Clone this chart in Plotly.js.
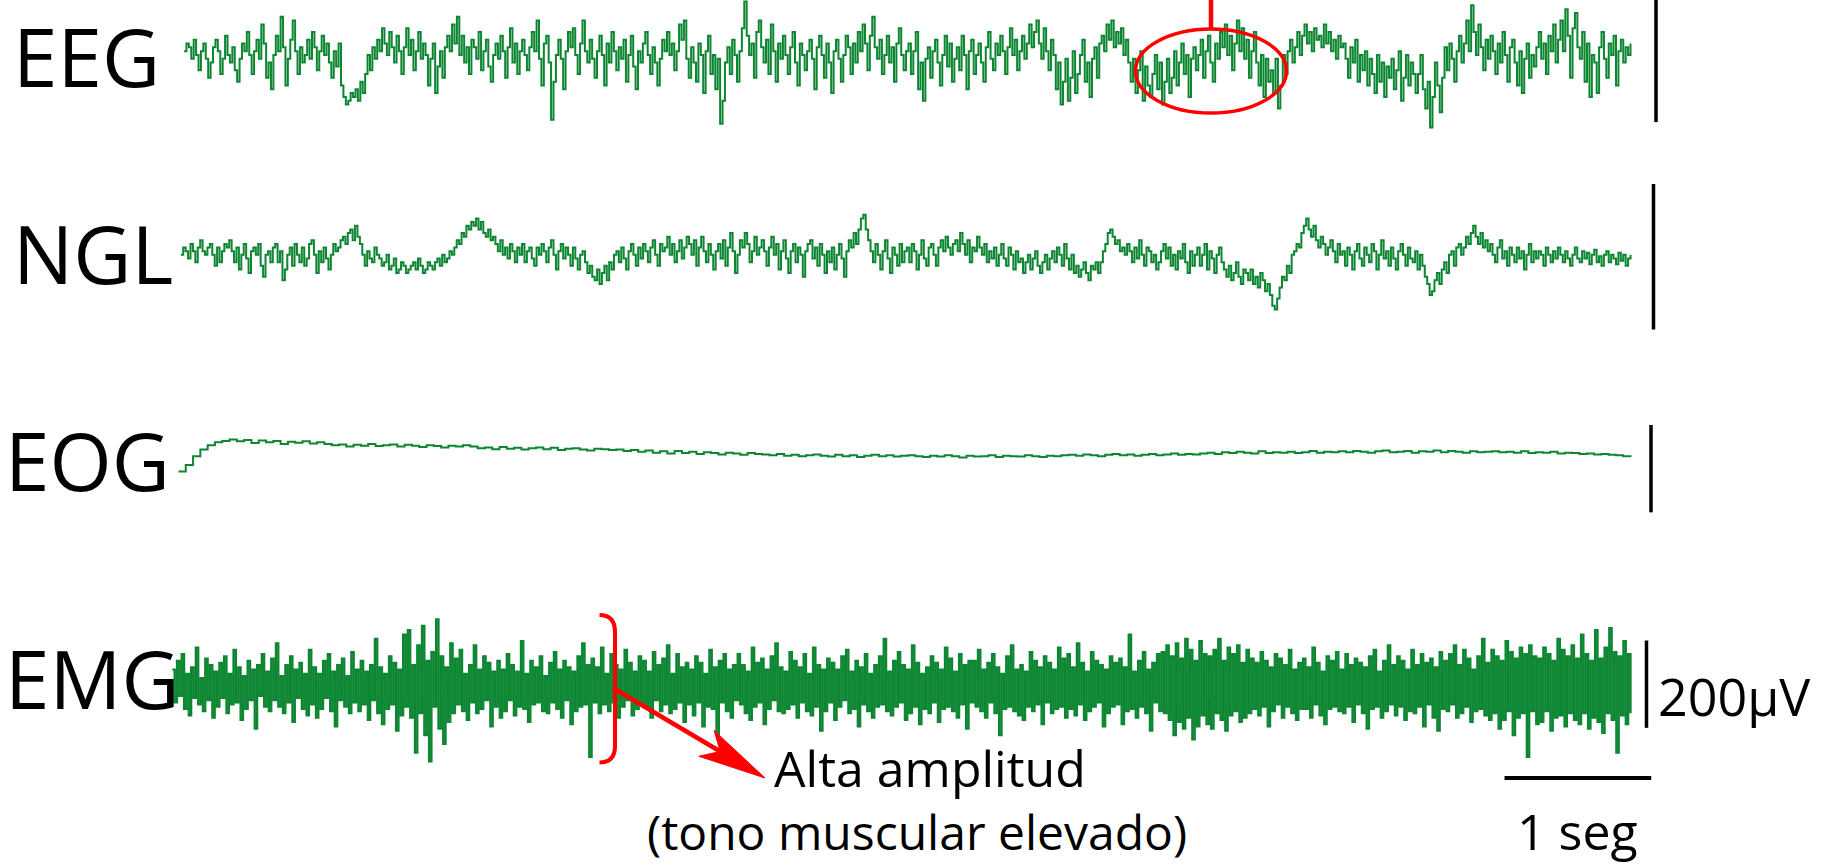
<!DOCTYPE html>
<html>
<head>
<meta charset="utf-8">
<script src="https://cdn.plot.ly/plotly-3.0.1.min.js"></script>
<style>html,body{margin:0;padding:0;background:#fff;}#chart{width:1826px;height:867px;}</style>
</head>
<body>
<div id="chart"></div>
<script>
// ---------------- DATA (µV) ----------------
const channelNames = ["EEG", "NGL", "EOG", "EMG"];
const scaleLabel = "200µV";
const timeLabel = "1 seg";
const noteLine1 = "Alta amplitud";
const noteLine2 = "(tono muscular elevado)";
const recordStart = [0.08, 0.058, 0.042, 0.0];   // s
const recordEnd = 9.94;                          // s
const calibUV = [160, 200, 200, 200];            // height of each channel's vertical bar

const eeg = [
20,30,25,10,35,15,-5,20,30,10,
-15,5,25,35,20,-10,10,40,15,5,
25,-5,-20,10,30,20,45,15,-10,20,
35,10,55,30,-15,5,-30,15,40,20,
65,25,-25,10,35,60,20,-10,25,5,
15,35,10,45,25,-5,20,40,15,30,
5,-15,20,0,30,-25,-40,-50,-45,-35,
-40,-30,-45,-20,-35,-10,15,-5,25,10,
35,20,50,30,15,45,25,5,40,20,
-10,25,50,15,35,-5,20,45,10,30,
15,-25,10,30,-35,0,20,-15,25,40,
20,55,30,65,15,40,5,25,-10,35,
25,10,45,-5,20,35,0,-20,15,30,
10,40,20,-15,25,50,5,30,-10,20,
35,15,-5,25,45,20,60,10,-25,30,
40,5,-70,-20,15,35,10,-30,20,45,
25,50,15,-10,30,60,20,5,35,10,
-15,20,40,15,-25,30,5,45,20,-5,
25,10,35,-20,15,40,0,-30,20,5,
30,45,15,-10,25,5,-25,10,35,20,
45,15,30,-5,20,55,35,60,10,-15,
25,5,-20,30,15,-35,20,40,-10,15,
-30,10,-75,-45,5,25,-10,35,15,-20,
20,50,85,40,15,30,-15,45,60,25,
5,35,-10,55,20,-20,30,10,40,15,
-10,25,45,5,-25,30,15,-5,20,35,
10,-30,25,40,15,-15,30,5,-35,20,
35,10,-20,15,40,25,-10,30,5,45,
20,55,30,-5,40,65,25,10,35,-10,
15,40,5,25,-20,30,50,15,-5,20,
30,-10,20,45,-30,5,-45,10,25,-15,
20,35,5,-25,15,40,0,30,-20,10,
25,-5,40,15,-30,20,35,-10,15,30,
5,-20,25,45,10,-5,30,15,40,20,
-10,25,50,15,35,-5,20,40,10,30,
55,25,45,60,30,10,50,20,-5,35,
15,-30,5,-50,-20,10,-45,-15,20,-35,
-10,15,35,-20,5,-40,10,25,-15,30,
40,20,55,35,60,25,45,30,50,15,
35,5,-20,10,-35,-5,20,-45,0,-25,
-40,-10,15,-30,5,-50,-20,10,-35,-15,
20,-25,5,30,-10,15,-40,10,25,-5,
15,35,-15,20,40,5,-20,30,10,45,
25,55,15,40,-5,30,60,20,50,10,
35,-15,20,45,5,-25,15,-40,10,-20,
-5,-35,10,-55,-25,15,-10,20,35,5,
25,45,15,40,55,30,45,20,50,35,
40,25,55,30,45,20,35,10,40,25,
30,10,-15,25,5,35,-20,15,-5,20,
-25,10,-10,-35,15,-20,5,-40,0,-15,
10,-30,-5,20,-45,-15,15,-25,5,-10,
-35,-10,15,-30,-55,-20,-80,-40,5,-25,
-60,-15,25,-5,30,10,-20,20,40,5,
30,60,20,80,45,15,55,25,-5,35,
10,40,20,-10,30,5,45,15,-20,25,
35,5,-25,20,-35,10,30,-15,15,0,
25,45,10,30,-10,40,20,55,5,35,
60,20,75,40,-15,50,70,25,10,45,
-20,30,-40,15,5,-35,25,45,10,-15,
30,15,40,-25,20,35,5,25,15,30];

const ngl = [
5,15,10,0,20,10,-5,15,25,10,
5,15,20,5,-10,15,-5,10,20,15,
25,10,-5,15,-15,5,20,0,-20,10,
15,5,20,-10,-25,5,10,-5,15,20,
-5,10,-30,-15,5,15,-10,20,5,-5,
15,-10,0,20,25,5,-20,10,-5,15,
0,-15,5,20,10,15,25,30,20,35,
40,25,45,30,20,5,-10,10,0,-5,
15,5,0,-10,-5,5,-15,-10,0,-20,
-15,-5,-10,-20,-15,-10,-5,-15,0,-10,
-20,-15,-5,-10,-15,-5,0,-10,5,-5,
0,10,5,15,25,20,35,30,45,40,
50,45,55,40,50,35,30,40,25,30,
20,10,25,5,15,0,20,10,-5,15,
5,20,-5,10,15,0,-10,15,5,20,
10,-5,15,25,5,-15,10,20,0,15,
5,-10,15,0,-15,5,10,-5,-20,-10,
-25,-30,-15,-35,-20,-10,-30,-5,-15,5,
10,-5,15,0,-15,10,20,5,-10,15,
0,20,10,-5,15,25,5,-10,20,10,
15,30,5,20,-5,10,25,0,15,30,
20,5,25,-10,15,30,10,-5,20,5,
-15,10,20,0,25,-10,15,35,10,-20,
5,25,15,35,20,-5,10,30,5,15,
25,10,-10,15,30,5,20,-15,10,25,
0,-20,10,20,-5,15,5,-25,10,20,
25,0,15,-10,20,5,-20,10,-5,15,
-15,5,20,0,-25,10,25,15,35,20,
40,55,60,40,25,10,-5,20,5,-15,
10,25,0,-20,15,5,-10,20,-5,10,
15,-5,20,10,-15,5,25,0,-10,15,
20,5,-10,15,25,10,30,15,5,20,
25,10,35,20,5,25,-5,15,10,30,
15,5,20,-5,10,0,15,-10,5,20,
0,-10,15,5,-15,10,-5,0,-20,-5,
5,-15,0,10,-10,-20,-5,5,-15,0,
10,-5,15,5,-10,20,0,-15,5,-20,
-10,-25,-15,-5,-20,-30,-10,-15,-5,-20,
-5,10,20,35,40,30,20,25,10,15,
5,20,10,-5,15,0,25,5,-10,15,
10,-5,5,-15,-5,10,20,0,15,-10,
5,-15,10,0,20,-5,-20,10,-10,5,
15,-10,5,20,-15,10,0,-20,5,15,
-5,-15,-25,-10,-30,-20,-5,-25,-35,-15,
-20,-30,-15,-35,-25,-40,-20,-30,-45,-35,
-50,-65,-70,-55,-40,-25,-30,-10,-20,5,
10,20,15,35,45,55,40,30,45,25,
15,30,20,5,15,25,10,-5,20,5,
10,-10,15,5,-15,10,20,0,-10,15,
5,-5,20,10,-15,5,25,0,10,-10,
15,0,-15,10,20,5,-10,15,0,-5,
10,-15,5,-10,-25,-35,-50,-45,-30,-20,
-35,-15,-5,-20,5,10,-10,15,20,5,
15,30,20,35,45,30,20,35,15,25,
10,20,5,-5,15,25,0,10,-10,15,
5,-5,15,0,10,-15,5,20,-5,10,
0,10,5,-10,15,5,-5,10,0,15,
5,-5,10,0,-10,5,15,0,-5,10,
0,8,-8,5,12,-5,3,-10,5,10,
-5,5,0,-8,8,-3,5,-10,0,5];

const eog = [
-45,-30,-10,5,15,
22,25,28,24,27,20,26,22,25,18,23,21,24,19,22,
18,15,17,12,16,14,18,13,15,17,12,16,14,11,15,13,10,14,12,15,
12,8,10,6,11,7,9,5,8,10,6,9,4,7,8,5,3,7,6,4,
5,2,4,0,3,-2,1,-4,2,-3,0,-5,-1,-3,-6,-2,-4,-7,-3,-5,
-6,-8,-5,-9,-7,-10,-8,-6,-9,-11,-7,-10,-8,-12,-9,-7,-10,-8,-11,-9,
-8,-10,-12,-9,-11,-8,-10,-13,-9,-11,-10,-8,-12,-9,-10,-11,-8,-10,-12,-9,
-10,-8,-7,-9,-6,-8,-10,-7,-5,-8,-6,-9,-7,-5,-8,-6,-4,-7,-5,-6,
-4,-2,-5,-1,-3,0,-2,-4,1,-3,-1,-2,0,-3,-1,2,-2,0,-1,1,
-1,2,0,-2,1,3,-1,0,2,-2,1,0,3,-1,2,0,-2,1,-1,0,
1,-1,0,-2,1,-3,-1,-2,0,-4,-2,-3,-5,-4,-6,-5,-7,-8,-10,-12];

const emg = [
40,-35,60,-20,75,-50,30,-65,45,-25,90,-40,20,-55,65,-30,50,-70,35,-45,
55,-25,70,-60,30,-40,85,-35,45,-75,25,-50,60,-30,40,-95,50,-20,75,-45,
35,-55,65,-30,100,-45,25,-60,50,-35,70,-80,40,-25,55,-50,30,-65,85,-40,
45,-70,30,-50,60,-25,75,-55,35,-90,50,-30,65,-45,25,-60,80,-35,40,-55,
60,-40,35,-75,50,-30,110,-60,45,-85,30,-50,70,-40,55,-100,40,-65,120,-45,
130,-70,50,-150,95,-60,140,-110,60,-170,80,-45,155,-95,70,-130,45,-80,100,-60,
65,-40,85,-55,30,-75,50,-35,95,-60,40,-50,70,-30,55,-90,35,-45,60,-70,
40,-55,75,-30,50,-65,35,-45,105,-50,30,-80,60,-40,45,-35,70,-55,25,-60,
55,-35,80,-50,40,-70,60,-30,45,-85,35,-55,70,-45,100,-40,50,-160,65,-35,
45,-60,90,-40,30,-55,75,-35,50,-70,40,-45,85,-30,55,-65,35,-50,70,-40,
60,-45,35,-70,80,-30,50,-55,65,-40,95,-60,30,-50,75,-35,45,-80,55,-40,
40,-65,70,-35,55,-90,30,-45,85,-50,45,-110,60,-35,75,-55,40,-70,50,-30,
75,-40,50,-60,35,-75,90,-45,55,-35,65,-85,40,-50,70,-30,100,-55,45,-60,
35,-50,80,-40,60,-70,45,-35,75,-55,30,-65,90,-45,50,-100,40,-55,65,-35,
55,-75,40,-45,70,-30,85,-60,35,-50,60,-90,45,-40,75,-55,30,-70,50,-45,
70,-40,110,-55,35,-65,60,-45,80,-35,50,-75,40,-60,95,-45,55,-85,30,-50,
45,-60,70,-35,55,-80,40,-50,90,-45,65,-55,35,-70,75,-40,50,-95,60,-35,
60,-45,85,-55,40,-70,55,-35,75,-60,45,-110,30,-50,70,-45,95,-55,40,-65,
50,-75,35,-45,80,-55,60,-40,45,-85,70,-35,55,-60,40,-50,90,-45,65,-70,
75,-50,45,-65,100,-40,55,-75,35,-55,80,-45,60,-35,50,-90,40,-60,70,-45,
55,-40,65,-85,45,-55,120,-50,35,-70,60,-45,80,-60,40,-100,55,-35,75,-55,
80,-60,95,-75,70,-110,100,-80,65,-95,110,-70,85,-120,60,-90,105,-65,75,-85,
70,-95,85,-60,110,-75,60,-100,90,-65,75,-55,95,-80,55,-70,85,-60,65,-50,
55,-65,80,-45,60,-90,45,-55,75,-40,65,-70,50,-45,85,-60,40,-75,55,-50,
65,-50,45,-70,90,-40,55,-65,35,-85,70,-50,60,-45,80,-55,40,-60,75,-45,
50,-80,65,-40,55,-60,45,-95,70,-50,85,-45,35,-70,60,-55,95,-40,50,-65,
70,-45,60,-75,40,-55,85,-60,50,-45,75,-90,55,-40,65,-70,45,-100,80,-50,
60,-55,75,-40,95,-70,50,-60,85,-45,65,-80,40,-55,70,-50,110,-65,55,-75,
85,-60,70,-95,60,-75,105,-55,80,-110,65,-70,90,-60,75,-160,95,-55,70,-85,
65,-80,90,-55,75,-100,60,-70,110,-65,85,-90,70,-60,95,-75,65,-85,120,-60,
75,-95,60,-70,130,-80,65,-105,90,-60,135,-75,80,-150,70,-65,105,-85,75,-60];

const signals = [eeg, ngl, eog, emg];
const timeBarS = 1;       // s

// ---------------- LAYOUT GEOMETRY ----------------
const W = 1826, H = 867;
const PXS = 146.7;                 // pixels per second
const X0 = -172.3 / PXS;           // time at left edge
const GREEN = "#0d8632";
const lineW = [2.0, 2.0, 2.0, 2.3];
// per channel: baseline pixel row, µV per pixel, scale-bar pixel column and top row
const chan = [
  {center: 66.4,  uvpp: 1.31,  barX: 1656,   barTop: 0,     labX: 11, labY: 56},
  {center: 258.5, uvpp: 1.374, barX: 1653.5, barTop: 184,   labX: 11, labY: 252},
  {center: 451.8, uvpp: 2.29,  barX: 1651,   barTop: 425,   labX: 3,  labY: 459},
  {center: 687,   uvpp: 2.29,  barX: 1646.5, barTop: 640.5, labX: 3,  labY: 677}
];
const tOf = px => px / PXS + X0;
const yp = p => 1 - p / H;
const xp = p => p / W;

const traces = [];
const layout = {
  width: W, height: H, autosize: false,
  margin: {l: 0, r: 0, t: 0, b: 0, pad: 0},
  paper_bgcolor: "#fff", plot_bgcolor: "#fff",
  showlegend: false,
  xaxis: {range: [X0, X0 + W / PXS], visible: false, fixedrange: true},
  shapes: [], annotations: []
};

signals.forEach((vals, k) => {
  const c = chan[k];
  const n = vals.length;
  const dt = (recordEnd - recordStart[k]) / (n - 1);
  const t = vals.map((_, i) => recordStart[k] + i * dt);
  const yname = k === 0 ? "y" : "y" + (k + 1);
  const axname = k === 0 ? "yaxis" : "yaxis" + (k + 1);
  traces.push({
    x: t, y: vals, type: "scatter", mode: "lines", yaxis: yname,
    line: {color: GREEN, width: lineW[k], shape: "hv"}, hoverinfo: "skip"
  });
  const ax = {range: [-(H - c.center) * c.uvpp, c.center * c.uvpp], visible: false, fixedrange: true, domain: [0, 1]};
  if (k > 0) ax.overlaying = "y";
  layout[axname] = ax;
  // vertical calibration bar
  const barTopUV = (c.center - c.barTop) * c.uvpp;
  layout.shapes.push({type: "line", xref: "x", yref: yname,
    x0: tOf(c.barX), x1: tOf(c.barX), y0: barTopUV - calibUV[k], y1: barTopUV,
    line: {color: "#000", width: 3.5}});
  layout.annotations.push({text: channelNames[k], xref: "paper", yref: "paper",
    x: xp(c.labX), y: yp(c.labY), xanchor: "left", yanchor: "middle", showarrow: false,
    font: {family: "Open Sans, Noto Sans, sans-serif", size: 80, color: "#000"}});
});

// 200µV label
layout.annotations.push({text: scaleLabel, xref: "paper", yref: "paper",
  x: xp(1656), y: yp(695), xanchor: "left", yanchor: "middle", showarrow: false,
  font: {family: "Open Sans, sans-serif", size: 52, color: "#000"}});
// 1 s bar
const tb0 = tOf(1504.5);
layout.shapes.push({type: "line", xref: "x", yref: "paper", x0: tb0, x1: tb0 + timeBarS,
  y0: yp(778), y1: yp(778), line: {color: "#000", width: 4}});
layout.annotations.push({text: timeLabel, xref: "x", yref: "paper",
  x: tb0 + timeBarS / 2, y: yp(831), xanchor: "center", yanchor: "middle", showarrow: false,
  font: {family: "Open Sans, sans-serif", size: 50, color: "#000"}});

// red ellipse + stem on EEG
const RED = "#ff0000";
layout.shapes.push({type: "circle", xref: "paper", yref: "paper",
  x0: xp(1211 - 75.5), x1: xp(1211 + 75.5), y0: yp(71 + 42), y1: yp(71 - 42),
  line: {color: RED, width: 3.5}});
layout.shapes.push({type: "line", xref: "paper", yref: "paper",
  x0: xp(1211), x1: xp(1211), y0: yp(0), y1: yp(29), line: {color: RED, width: 4.5}});

// red bracket on EMG
const P = (x, y) => xp(x).toFixed(5) + "," + yp(y).toFixed(5);
layout.shapes.push({type: "path", xref: "paper", yref: "paper",
  path: "M" + P(599.5, 615) + " Q" + P(615, 615) + " " + P(615, 632) + " L" + P(615, 746) +
        " Q" + P(615, 762.5) + " " + P(599.5, 762.5),
  line: {color: RED, width: 4}});

// red arrow
const tail = [613, 688], tip = [765, 778];
const dx = tip[0] - tail[0], dy = tip[1] - tail[1], L = Math.hypot(dx, dy);
const ux = dx / L, uy = dy / L, headLen = 68, halfW = 15, notch = 16;
const bx = tip[0] - ux * headLen, by = tip[1] - uy * headLen;
const nx = tip[0] - ux * (headLen - notch), ny = tip[1] - uy * (headLen - notch);
layout.shapes.push({type: "line", xref: "paper", yref: "paper",
  x0: xp(tail[0]), y0: yp(tail[1]), x1: xp(nx), y1: yp(ny), line: {color: RED, width: 4.5}});
layout.shapes.push({type: "path", xref: "paper", yref: "paper",
  path: "M" + P(tip[0], tip[1]) + " L" + P(bx - uy * halfW, by + ux * halfW) +
        " L" + P(nx, ny) + " L" + P(bx + uy * halfW, by - ux * halfW) + " Z",
  fillcolor: RED, line: {color: RED, width: 1}});

// note text
layout.annotations.push({text: noteLine1, xref: "paper", yref: "paper",
  x: xp(772), y: yp(768), xanchor: "left", yanchor: "middle", showarrow: false,
  font: {family: "Open Sans, sans-serif", size: 50, color: "#000"}});
layout.annotations.push({text: noteLine2, xref: "paper", yref: "paper",
  x: xp(917), y: yp(831), xanchor: "center", yanchor: "middle", showarrow: false,
  font: {family: "Open Sans, sans-serif", size: 48, color: "#000"}});

Plotly.newPlot("chart", traces, layout, {staticPlot: true, displayModeBar: false});
</script>
</body>
</html>
